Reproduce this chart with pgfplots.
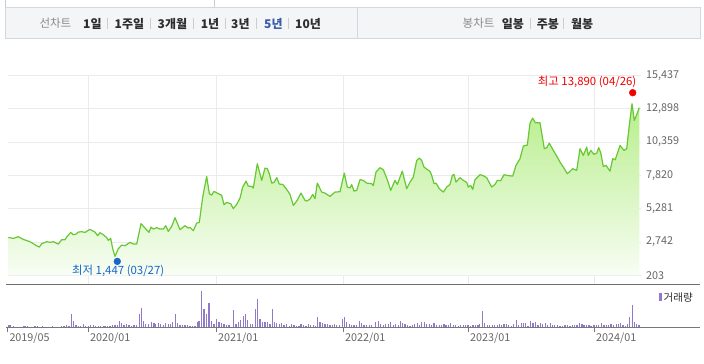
\documentclass[border=0pt]{standalone}
\usepackage{pgfplots}
\usepackage{pgfplotstable}
\pgfplotsset{compat=1.18}
\usepackage{fontspec}
\setmainfont{Noto Sans CJK KR}
\newfontfamily\kr{Noto Sans CJK KR}

\definecolor{barbg}{RGB}{244,245,247}
\definecolor{barline}{RGB}{212,215,220}
\definecolor{labgray}{RGB}{138,138,138}
\definecolor{itemtxt}{RGB}{45,45,45}
\definecolor{selblue}{RGB}{58,91,168}
\definecolor{sepgray}{RGB}{204,204,204}
\definecolor{gridc}{RGB}{235,235,235}
\definecolor{ticktext}{RGB}{102,102,102}
\definecolor{linegreen}{RGB}{102,200,50}
\definecolor{fillTop}{RGB}{184,238,140}
\definecolor{fillBot}{RGB}{248,253,244}
\definecolor{volpurple}{RGB}{145,120,200}
\definecolor{axisgray}{RGB}{119,119,119}
\definecolor{darkline}{RGB}{110,110,110}
\definecolor{hired}{RGB}{240,0,0}
\definecolor{loblue}{RGB}{26,102,204}

\pgfplotstableread{
x v
8.3 3097
13.3 3021
18.3 3151
23.3 2945
30 2770
36 2488
39.3 2359
41.7 2618
46.7 2770
50 2717
53.3 2770
58.3 2587
61.7 2922
65 2922
66.7 3120
70.7 3478
73.3 3303
76 3349
78.3 3501
81.7 3532
85 3478
90 3707
95 3501
97.7 3227
100 3455
103.3 3303
106.7 3075
108.3 2869
110.7 3021
112.7 2237
115 1650
118.3 2237
121.7 2511
125 2465
130 2717
133.3 2587
136.7 2587
141 4141
145 3806
149 3478
151 3882
153.3 3730
156.7 3836
160 3730
163.3 3730
165.7 3989
168.3 3554
171.7 3935
175 4598
180 3684
185 3989
188.3 3806
190 3859
193.3 3608
196.7 4187
199.3 4240
202.7 6167
206.7 7744
209.3 6426
211.7 6320
214 6601
218.3 6426
221.7 6297
224 5588
226.7 5763
230.7 5664
233.3 5284
236.7 5611
240 6091
242.7 6929
246 7386
248.3 7005
251.7 6982
253.3 6853
257.3 8711
261.7 7439
265 8376
267.3 8330
269.3 7950
271.7 7233
274 7287
276.7 7645
279.3 7157
282.7 7134
286.7 6754
290 6373
293.3 5535
296.7 5862
301 6472
305 5916
306.7 5862
310 6015
312.7 6373
315 6045
317.3 7233
321.7 6548
325 6472
330 6220
335 6548
340 6578
344.3 7995
347.3 6929
350 6868
351.7 7112
354 6624
356.7 6677
360 7492
363.3 7439
366.7 7233
371.7 7188
373.3 7035
376 8071
380 8406
383.3 8254
387.3 7492
390.7 6677
395 7439
397.3 7134
402.3 8147
406.7 6807
410 7310
413.3 7690
416.7 8963
419.3 9138
421.7 8963
424 8452
430 8125
431.7 7820
434 7188
436 7233
439.3 6807
443.3 6548
446.7 6929
450 7134
452.3 7820
454 7896
456 7310
460 7645
463.3 7439
466.7 7287
468.3 6929
470.7 7058
472.7 6754
475 7492
480 7873
483.3 7797
486.7 7645
491.7 6929
495 7134
497.3 7439
500.7 7416
504 7873
506.7 7820
512.7 7767
516 8582
520 9092
523.3 10052
527.3 10128
530 11804
532.7 12184
535.3 11834
540 11834
544.3 9854
546.7 9930
549.3 10280
553.3 9724
556.7 9290
560 8833
563.3 8452
567.3 7950
570 8125
572.7 8330
576.7 8201
580 9854
583.3 9343
586.7 9976
588.3 9343
590.7 9724
594 9420
596.7 9519
598.7 9930
600.7 9549
603.3 8505
606 8582
610 8147
612.7 9092
615.3 9016
620 10105
624 9724
626.7 9854
629.3 11629
632 13281
634.3 12010
637.3 12565
639.3 12977
}\price

\pgfplotstableread{
x h
8.3 2.3
10 2.3
13.3 1.3
23.3 1.3
25 1.3
27.3 1.3
35 1.3
37.3 1.3
42.3 1.3
52.3 1.3
61.7 1.3
64 1.3
66.7 2.3
69 1.3
71.7 13.3
73.3 6.3
76 2.3
78.3 1.3
80.7 1.3
83.3 3.3
85.7 1.3
88.3 1.3
90.7 2.3
93.3 2.3
95.7 1.3
98.3 1.3
100.7 1.3
103.3 1.3
105 1.3
107.3 1.3
110 1.3
112.3 2.3
115 2.3
117.3 2.3
119.3 6.3
121.7 4.3
124 2.3
126.7 3.3
129 2.3
131.7 1.3
134 2.3
136.7 2.3
139.3 13.3
141.7 19.3
143.3 6.3
145.7 3.3
148.3 3.3
151.7 5.3
154 4.3
155.7 3.3
158.3 4.3
160.7 3.3
163.3 2.3
165.7 4.3
168.3 3.3
170.7 3.3
172.3 5.3
175.7 13.3
177.3 4.3
180 2.3
182.3 2.3
185 2.3
187.3 2.3
190 1.3
192.3 1.3
195 1.3
197.3 5.3
199 6.3
201.3 36.3
204 18.3
206.3 13.3
209 24.3
211.7 6.3
214 3.3
216.7 8.3
219 5.3
221.7 4.3
224 3.3
226.7 2.3
229 2.3
233.3 17.3
236 3.3
238.3 5.3
240.7 7.3
243.3 11.3
245.3 13.3
247.3 7.3
250.7 3.3
252.7 3.3
255.3 18.3
257.3 28.3
260 8.3
262.7 5.3
265 5.3
267.3 5.3
270 3.3
272.3 18.3
274.3 5.3
276.7 4.3
279.3 3.3
281.7 4.3
284 2.3
286.7 3.3
289.3 1.3
291.7 3.3
294 2.3
296.7 1.3
299 1.3
301 3.3
303.3 2.3
306 1.3
308.3 3.3
310.7 2.3
313.3 2.3
315.3 1.3
317.3 10.3
320 5.3
322.7 4.3
325 3.3
327.3 3.3
330 2.3
332.3 2.3
334.3 3.3
336.7 2.3
339.3 2.3
342.3 8.3
344.3 10.3
346.7 5.3
349.3 3.3
351.7 2.3
354 2.3
356.7 2.3
359.3 6.3
361.7 4.3
364 2.3
366.7 2.3
369.3 2.3
371.7 2.3
375.7 5.3
378.3 6.3
380.7 3.3
383.3 2.3
385.7 3.3
388.3 3.3
390.7 5.3
393.3 2.3
395.7 3.3
398.3 2.3
400.7 6.3
402.7 4.3
405 3.3
407.3 2.3
410 1.3
412.3 2.3
414.3 3.3
417.3 4.3
419.3 2.3
421.7 5.3
424.3 5.3
426.7 3.3
429.3 3.3
431.7 2.3
434 4.3
436.7 2.3
439.3 2.3
441.7 2.3
444 3.3
446 2.3
448.3 2.3
450.7 4.3
453.3 2.3
455.7 2.3
458.3 1.3
460.7 2.3
463.3 2.3
465.7 2.3
468 2.3
470.7 1.3
473 2.3
475.7 2.3
478 2.3
479.7 3.3
482.3 16.3
484.7 4.3
487.3 2.3
489.7 2.3
492.3 2.3
494.7 2.3
497.3 2.3
499.7 3.3
501.7 2.3
504 3.3
506.3 3.3
508.7 2.3
511.3 1.3
513.7 3.3
516.3 7.3
518.7 2.3
521.3 4.3
523.3 4.3
525.7 4.3
528 1.3
530.7 6.3
533 4.3
535.7 5.3
538 2.3
540.3 4.3
542.7 3.3
545.3 4.3
547.7 2.3
550.3 4.3
552.7 2.3
554.7 2.3
557.3 2.3
560 1.3
562.3 1.3
565 2.3
567.3 2.3
570 1.3
572.3 2.3
574.7 2.3
577 2.3
579.3 4.3
582 3.3
584 2.3
586.7 2.3
589 2.3
591 1.3
594 2.3
596.3 2.3
598.7 2.3
601.3 4.3
604 2.3
606.3 2.3
608.7 2.3
611 3.3
613.7 2.3
616.3 3.3
618.3 3.3
620.7 4.3
623 2.3
625.3 1.3
627.3 3.3
629.7 10.3
632.3 22.3
634.3 5.3
636.7 3.3
639 2.3
}\volume

\tikzset{
  lab/.style={anchor=west, inner sep=0pt, font=\kr\fontsize{11.5}{13}\selectfont, text=labgray},
  itm/.style={anchor=west, inner sep=0pt, font=\kr\bfseries\fontsize{12}{14}\selectfont, text=itemtxt},
}

\begin{document}
\begin{tikzpicture}
\path[fill=white] (0pt,0pt) rectangle (704pt,363pt);
% tab lines at top
\draw[sepgray, line width=0.8pt] (5pt,355.5pt) -- (5pt,363pt);
\draw[sepgray, line width=0.8pt] (214pt,355.5pt) -- (214pt,363pt);
% top bar
\draw[fill=barbg, draw=barline, line width=0.8pt] (5pt,325pt) rectangle (700pt,355.5pt);
\draw[barline, line width=0.8pt] (357pt,325pt) -- (357pt,355.5pt);
\node[lab] at (39.3pt,339.7pt) {선차트};
\node[itm] at (83pt,339.7pt) {1일};
\node[itm] at (114.5pt,339.7pt) {1주일};
\node[itm] at (157.5pt,339.7pt) {3개월};
\node[itm] at (200.7pt,339.7pt) {1년};
\node[itm] at (231pt,339.7pt) {3년};
\node[itm, text=selblue] at (264pt,339.7pt) {5년};
\node[itm] at (295pt,339.7pt) {10년};
\foreach \sx in {107,150,193.5,225,256.5,288,530,563.5}{
  \draw[sepgray, line width=0.8pt] (\sx pt,334.5pt) -- (\sx pt,345pt);
}
\node[lab] at (462.5pt,339.7pt) {봉차트};
\node[itm] at (501.6pt,339.7pt) {일봉};
\node[itm] at (536.6pt,339.7pt) {주봉};
\node[itm] at (571pt,339.7pt) {월봉};

% price chart
\begin{axis}[
  at={(8pt,79pt)}, anchor=south west, scale only axis,
  width=633pt, height=209pt,
  xmin=8, xmax=641, ymin=-483, ymax=15437,
  axis line style={draw=none}, tick style={draw=none},
  scaled y ticks=false,
  xtick={88,216,343,468,594}, xticklabels={},
  ytick={203,2742,5281,7820,10359,12898,15437},
  yticklabels={203,{2,742},{5,281},{7,820},{10,359},{12,898},{15,437}},
  yticklabel pos=right,
  yticklabel style={anchor=west, inner sep=0pt, xshift=5pt, font=\kr\fontsize{10.8}{12}\selectfont, text=ticktext},
  grid=major, grid style={color=gridc, line width=0.9pt},
  clip=false,
]
\addplot[draw=none, top color=fillTop, bottom color=fillBot] table[x=x,y=v] {\price} -- (axis cs:639.3,203) -- (axis cs:8.3,203) -- cycle;
\addplot[draw=linegreen, line width=1.2pt, line join=round] table[x=x,y=v] {\price};
\addplot[only marks, mark=*, mark size=3.4pt, color=hired] coordinates {(632.7,14120)};
\addplot[only marks, mark=*, mark size=3.4pt, color=loblue] coordinates {(117.3,1269)};
\node[anchor=east, inner sep=0pt, text=hired, font=\kr\fontsize{11.4}{13}\selectfont] at (axis cs:636.5,14904) {최고 13,890 (04/26)};
\node[anchor=west, inner sep=0pt, text=loblue, font=\kr\fontsize{11.4}{13}\selectfont] at (axis cs:72,508) {최저 1,447 (03/27)};
\end{axis}

% volume chart
\begin{axis}[
  at={(6pt,36pt)}, anchor=south west, scale only axis,
  width=694pt, height=43pt,
  xmin=6, xmax=700, ymin=0, ymax=43,
  axis x line=bottom, axis y line=none,
  x axis line style={color=axisgray, line width=1pt, -},
  xtick={7.3,88,216,343,468,594},
  xticklabels={2019/05,2020/01,2021/01,2022/01,2023/01,2024/01},
  tick align=outside, major tick length=5pt,
  tick style={color=axisgray, line width=0.9pt},
  xticklabel style={anchor=north west, inner sep=0pt, xshift=2pt, font=\kr\fontsize{10.8}{12}\selectfont, text=ticktext},
  clip=false,
]
\addplot[ycomb, draw=volpurple, line width=1.2pt] table[x=x,y=h] {\volume};
\end{axis}
\draw[darkline, line width=1.6pt] (6pt,79pt) -- (700pt,79pt);
\fill[volpurple] (659pt,62pt) rectangle (661.5pt,70pt);
\node[anchor=west, inner sep=0pt, text=itemtxt, font=\kr\fontsize{10.5}{12}\selectfont] at (663.5pt,66pt) {거래량};
\end{tikzpicture}
\end{document}
